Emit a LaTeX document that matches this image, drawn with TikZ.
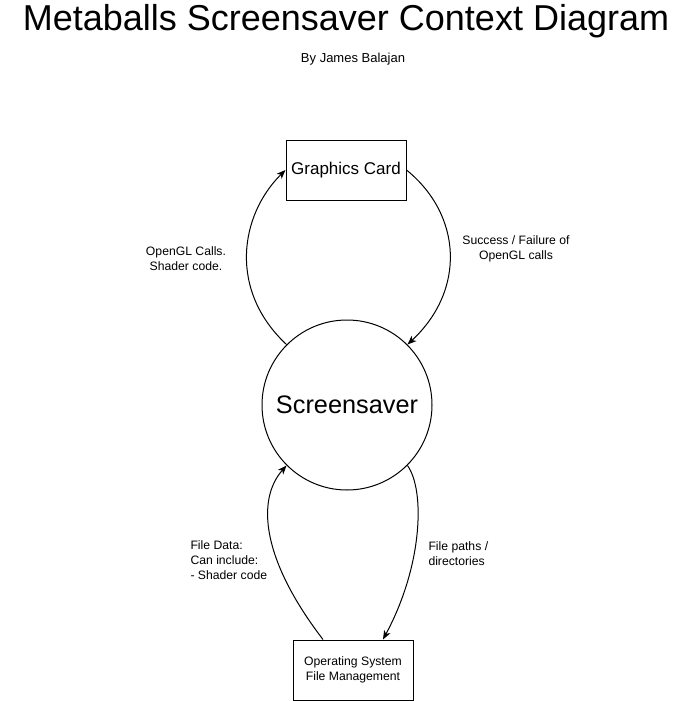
\documentclass[tikz,border=0pt]{standalone}
\usepackage{fontspec}
\setmainfont{Liberation Sans}
\usetikzlibrary{arrows.meta,calc}
\begin{document}
\begin{tikzpicture}[x=1pt,y=-1pt,
  line width=1pt,
  flow/.style={-{Stealth[length=9pt,width=7pt,inset=2.5pt]}},
  ext/.style={draw,minimum width=120pt,minimum height=60pt,inner sep=0pt,align=center},
  lbl/.style={font=\fontsize{12.2}{15}\selectfont,inner sep=0pt}]
\useasboundingbox (0,0) rectangle (691,701);
\node (title) at (346,21) {\fontsize{36}{40}\selectfont Metaballs Screensaver Context Diagram};
\node (by) at (353,59) {\fontsize{13}{15}\selectfont By James Balajan};
\node[ext,font=\fontsize{17}{20}\selectfont] (gc) at (346,170) {Graphics Card};
\node[draw,circle,minimum size=170pt,inner sep=0pt,font=\fontsize{25.3}{29}\selectfont] (sc) at (347,405) {Screensaver};
\node[ext,font=\fontsize{12.2}{15}\selectfont] (os) at (353,670) {Operating System\\File Management};
\draw[flow] (sc.135) .. controls (228,290) and (240,215) .. (gc.west);
\draw[flow] (gc.east) .. controls (462,215) and (466,290) .. (sc.45);
\draw[flow] ([xshift=-30pt]os.north) .. controls (262,560) and (256,500) .. (sc.225);
\draw[flow] (sc.315) .. controls (425,490) and (423,565) .. ([xshift=30pt]os.north);
\node[lbl,align=center] (l1) at (186,259) {OpenGL Calls.\\Shader code.};
\node[lbl,align=center] (l2) at (516,249) {Success / Failure of\\OpenGL calls};
\node[lbl,align=left,anchor=west] (l3) at (190,560) {File Data:\\Can include:\\- Shader code};
\node[lbl,align=left,anchor=west] (l4) at (428,554) {File paths /\\directories};
\end{tikzpicture}
\end{document}
